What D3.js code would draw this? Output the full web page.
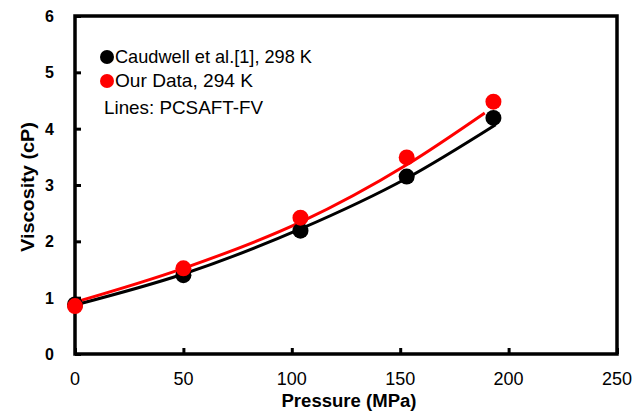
<!DOCTYPE html>
<html>
<head>
<meta charset="utf-8">
<script src="https://cdn.jsdelivr.net/npm/d3@7"></script>
<style>
  body { margin: 0; background: #fff; }
  text { font-family: "Liberation Sans", Arial, sans-serif; }
</style>
</head>
<body>
<svg id="chart" width="633" height="414"></svg>
<script>
// measured points
let caudwellP = [0, 50, 104, 153, 193];
let caudwellV = [0.88, 1.40, 2.19, 3.15, 4.19];
let ourP = [0, 50, 104, 153, 193];
let ourV = [0.85, 1.52, 2.42, 3.49, 4.48];

// PCSAFT-FV model lines
let caudwellFitP = [0, 50, 104, 153, 194];
let caudwellFitV = [0.87, 1.42, 2.22, 3.12, 4.07];
let ourFitP = [0, 50, 104, 153, 189];
let ourFitV = [0.92, 1.52, 2.34, 3.36, 4.28];

let xTicks = [0, 50, 100, 150, 200, 250];
let yTicks = [0, 1, 2, 3, 4, 5, 6];

let margin = {top: 16, left: 75, bottom: 60, right: 16};
let width = 633, height = 414;

let svg = d3.select("#chart");

let x = d3.scaleLinear().domain([0, 250]).range([margin.left, width - margin.right]);
let y = d3.scaleLinear().domain([0, 6]).range([height - margin.bottom, margin.top]);

// inward ticks
svg.append("g")
    .attr("transform", "translate(0," + y(0) + ")")
    .call(d3.axisTop(x).tickValues(xTicks).tickSize(6).tickFormat(""));
svg.append("g")
    .attr("transform", "translate(" + x(0) + ",0)")
    .call(d3.axisRight(y).tickValues(yTicks).tickSize(6).tickFormat(""));
svg.selectAll(".domain").remove();
svg.selectAll(".tick line").attr("stroke", "#000").attr("stroke-width", 3);

// tick labels
svg.append("g").selectAll("text")
    .data(xTicks)
    .enter()
    .append("text")
    .attr("x", d => x(d))
    .attr("y", y(0) + 31)
    .attr("text-anchor", "middle")
    .attr("font-size", 18)
    .text(d => d);

svg.append("g").selectAll("text")
    .data(yTicks)
    .enter()
    .append("text")
    .attr("x", x(0) - 21)
    .attr("y", d => y(d) + 6)
    .attr("text-anchor", "end")
    .attr("font-size", 16)
    .attr("font-weight", "bold")
    .text(d => d);

// frame
svg.append("rect")
    .attr("x", x(0))
    .attr("y", y(6))
    .attr("width", x(250) - x(0))
    .attr("height", y(0) - y(6))
    .attr("fill", "none")
    .attr("stroke", "#000")
    .attr("stroke-width", 3.5);

// axis titles
svg.append("text")
    .attr("x", (x(0) + x(250)) / 2 + 3)
    .attr("y", height - 7)
    .attr("text-anchor", "middle")
    .attr("font-size", 18)
    .attr("font-weight", "bold")
    .attr("textLength", 135)
    .attr("lengthAdjust", "spacingAndGlyphs")
    .text("Pressure (MPa)");

svg.append("text")
    .attr("transform", "translate(34," + 187 + ") rotate(-90)")
    .attr("text-anchor", "middle")
    .attr("font-size", 18)
    .attr("font-weight", "bold")
    .attr("textLength", 130)
    .attr("lengthAdjust", "spacingAndGlyphs")
    .text("Viscosity (cP)");

let line = d3.line()
    .x(d => x(d[0]))
    .y(d => y(d[1]))
    .curve(d3.curveMonotoneX);

let series = [
    {p: caudwellP, v: caudwellV, fp: caudwellFitP, fv: caudwellFitV, color: "#000"},
    {p: ourP, v: ourV, fp: ourFitP, fv: ourFitV, color: "#ff0000"}
];

series.forEach(function(s) {
    svg.append("path")
        .attr("d", line(d3.zip(s.fp, s.fv)))
        .attr("fill", "none")
        .attr("stroke", s.color)
        .attr("stroke-width", 3);
});

series.forEach(function(s) {
    svg.append("g").selectAll("circle")
        .data(d3.zip(s.p, s.v))
        .enter()
        .append("circle")
        .attr("cx", d => x(d[0]))
        .attr("cy", d => y(d[1]))
        .attr("r", 8)
        .attr("fill", s.color);
});

// legend
let legendKeys = ["Caudwell et al.[1], 298 K", "Our Data, 294 K"];
let legendColors = ["#000", "#ff0000"];
let legendWidths = [197, 138];
let legend = svg.append("g");
legend.selectAll("g")
    .data(legendKeys)
    .enter()
    .append("g")
    .each(function(d, i) {
        let elem = d3.select(this);
        let base = 63 + i * 24;
        elem.append("circle")
            .attr("cx", 107)
            .attr("cy", base - 6)
            .attr("r", 7)
            .attr("fill", legendColors[i]);
        elem.append("text")
            .attr("x", 115)
            .attr("y", base)
            .attr("font-size", 19)
            .attr("textLength", legendWidths[i])
            .attr("lengthAdjust", "spacingAndGlyphs")
            .text(d);
    });

legend.append("text")
    .attr("x", 104)
    .attr("y", 114)
    .attr("font-size", 19)
    .attr("textLength", 159)
    .attr("lengthAdjust", "spacingAndGlyphs")
    .text("Lines: PCSAFT-FV");
</script>
</body>
</html>
